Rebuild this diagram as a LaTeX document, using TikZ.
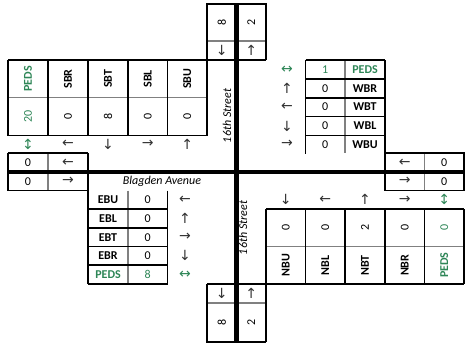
\documentclass[tikz,border=0pt]{standalone}
\usepackage{fontspec}
\setmainfont{Carlito}
\newfontfamily\arrowfont{DejaVu Sans}
\definecolor{pedsgreen}{RGB}{46,134,87}
\definecolor{gridgray}{RGB}{128,128,128}
\definecolor{arrowgray}{RGB}{50,50,50}
\begin{document}
\begin{tikzpicture}[x=1pt,y=-1pt,
  blk/.style={line width=1.6pt, black},
  gry/.style={line width=1.3pt, gridgray},
  road/.style={line width=4.6pt, black},
  lbl/.style={font=\fontsize{12}{12}\selectfont\bfseries, inner sep=0},
  val/.style={font=\fontsize{12}{12}\selectfont, inner sep=0},
  arr/.style={font=\arrowfont\fontsize{14}{14}\selectfont, text=arrowgray, inner sep=0},
  grn/.style={text=pedsgreen},
  street/.style={font=\fontsize{12}{13}\selectfont\itshape, inner sep=0},
  vert/.style={rotate=90}]
\fill[white] (0,0) rectangle (474,349);
\useasboundingbox (0,0) rectangle (474,349);
% ---------- gray internal lines
\draw[gry] (207,41)--(266,41);
\draw[gry] (8,97.7)--(207,97.7);
\draw[gry] (345,60)--(345,153);
\draw[gry] (48,153)--(48,190.5);
\draw[gry] (424.5,153)--(424.5,190.5);
\draw[gry] (128,190.5)--(128,284);
\draw[gry] (266,246.5)--(464,246.5);
\draw[gry] (207,303)--(266,303);
% ---------- black borders
% top boxes
\draw[blk] (207,60)--(207,4)--(266,4)--(266,60);
\draw[blk] (8,60)--(266,60);
% SB table
\draw[blk] (8,60)--(8,135.5)--(207,135.5)--(207,60);
\foreach \x in {48,88,128,167.5} \draw[blk] (\x,60)--(\x,135.5);
% WB table
\draw[blk] (305.5,60)--(385,60);
\draw[blk] (305.5,60)--(305.5,154);
\draw[blk] (385,60)--(385,190.5);
\foreach \y in {79,97.7,116.5,135.5} \draw[blk] (305.5,\y)--(385,\y);
% left boxes
\draw[blk] (8,153)--(88,153);
\draw[blk] (8,153)--(8,190.5)--(88,190.5);
\draw[blk] (88,153)--(88,284);
% right boxes
\draw[blk] (385,153)--(464,153)--(464,190.5)--(385,190.5);
% EB table
\draw[blk] (167.5,190.5)--(167.5,284);
\foreach \y in {209,228,246.5,265,284} \draw[blk] (88,\y)--(167.5,\y);
% NB table
\draw[blk] (266,209)--(464,209);
\draw[blk] (266,209)--(266,342);
\foreach \x in {305.5,345,385,424.5,464} \draw[blk] (\x,209)--(\x,284);
\draw[blk] (207,284)--(464,284);
% bottom boxes
\draw[blk] (207,284)--(207,342)--(266,342);
% roads
\draw[road] (7,172)--(465,172);
\draw[road] (236.5,4)--(236.5,342);
% ---------- top boxes text
\node[val,vert] (sbin) at (221.75,22.5) {8};
\node[arr] (sbinarr) at (221.75,50.5) {↓};
\node[val,vert] (nbout) at (251.25,22.5) {2};
\node[arr] (nboutarr) at (251.25,50.5) {↑};
% SB table
\node[lbl,vert,grn] (sbpedsh) at (28,78.85) {PEDS};
\node[lbl,vert] (sbrh) at (68,78.85) {SBR};
\node[lbl,vert] (sbth) at (108,78.85) {SBT};
\node[lbl,vert] (sblh) at (147.75,78.85) {SBL};
\node[lbl,vert] (sbuh) at (187.25,78.85) {SBU};
\node[val,vert,grn] (sbpedsv) at (28,116.6) {20};
\node[val,vert] (sbrv) at (68,116.6) {0};
\node[val,vert] (sbtv) at (108,116.6) {8};
\node[val,vert] (sblv) at (147.75,116.6) {0};
\node[val,vert] (sbuv) at (187.25,116.6) {0};
\node[arr,grn] (sbpedsa) at (28,144.25) {↕};
\node[arr] (sbra) at (68,144.25) {←};
\node[arr] (sbta) at (108,144.25) {↓};
\node[arr] (sbla) at (147.75,144.25) {→};
\node[arr] (sbua) at (187.25,144.25) {↑};
% left boxes
\node[val] (wboutv) at (28,162.5) {0};
\node[arr] (wbouta) at (68,162.5) {←};
\node[val] (ebinv) at (28,181.25) {0};
\node[arr] (ebina) at (68,181.25) {→};
\node[street] (blagden) at (162,181.25) {Blagden Avenue};
% streets
\node[street,vert] (st16n) at (227,116) {16th Street};
\node[street,vert] (st16s) at (243,228) {16th Street};
% WB table
\node[arr,grn] (wbpedsa) at (287,69.5) {↔};
\node[val,grn] (wbpedsv) at (325.25,69.5) {1};
\node[lbl,grn] (wbpedsh) at (365,69.5) {PEDS};
\node[arr] (wbra) at (287,88.35) {↑};
\node[val] (wbrv) at (325.25,88.35) {0};
\node[lbl] (wbrh) at (365,88.35) {WBR};
\node[arr] (wbta) at (287,107.1) {←};
\node[val] (wbtv) at (325.25,107.1) {0};
\node[lbl] (wbth) at (365,107.1) {WBT};
\node[arr] (wbla) at (287,126) {↓};
\node[val] (wblv) at (325.25,126) {0};
\node[lbl] (wblh) at (365,126) {WBL};
\node[arr] (wbua) at (287,144.25) {→};
\node[val] (wbuv) at (325.25,144.25) {0};
\node[lbl] (wbuh) at (365,144.25) {WBU};
% right boxes
\node[arr] (wbina) at (404.75,162.5) {←};
\node[val] (wbinv) at (444.25,162.5) {0};
\node[arr] (ebouta) at (404.75,181.25) {→};
\node[val] (eboutv) at (444.25,181.25) {0};
% NB arrows
\node[arr] (nbua) at (285.75,199.75) {↓};
\node[arr] (nbla) at (325.25,199.75) {←};
\node[arr] (nbta) at (365,199.75) {↑};
\node[arr] (nbra) at (404.75,199.75) {→};
\node[arr,grn] (nbpedsa) at (444.25,199.75) {↕};
% NB table
\node[val,vert] (nbuv) at (285.75,227.75) {0};
\node[val,vert] (nblv) at (325.25,227.75) {0};
\node[val,vert] (nbtv) at (365,227.75) {2};
\node[val,vert] (nbrv) at (404.75,227.75) {0};
\node[val,vert,grn] (nbpedsv) at (444.25,227.75) {0};
\node[lbl,vert] (nbuh) at (285.75,265.25) {NBU};
\node[lbl,vert] (nblh) at (325.25,265.25) {NBL};
\node[lbl,vert] (nbth) at (365,265.25) {NBT};
\node[lbl,vert] (nbrh) at (404.75,265.25) {NBR};
\node[lbl,vert,grn] (nbpedsh) at (444.25,265.25) {PEDS};
% EB table
\node[lbl] (ebuh) at (108,199.75) {EBU};
\node[val] (ebuv) at (147.75,199.75) {0};
\node[arr] (ebua) at (185,199.75) {←};
\node[lbl] (eblh) at (108,218.5) {EBL};
\node[val] (eblv) at (147.75,218.5) {0};
\node[arr] (ebla) at (185,218.5) {↑};
\node[lbl] (ebth) at (108,237.25) {EBT};
\node[val] (ebtv) at (147.75,237.25) {0};
\node[arr] (ebta) at (185,237.25) {→};
\node[lbl] (ebrh) at (108,255.75) {EBR};
\node[val] (ebrv) at (147.75,255.75) {0};
\node[arr] (ebra) at (185,255.75) {↓};
\node[lbl,grn] (ebpedsh) at (108,274.5) {PEDS};
\node[val,grn] (ebpedsv) at (147.75,274.5) {8};
\node[arr,grn] (ebpedsa) at (185,274.5) {↔};
% bottom boxes
\node[arr] (sbouta) at (221.75,293.5) {↓};
\node[val,vert] (sboutv) at (221.75,322.5) {8};
\node[arr] (nbina) at (251.25,293.5) {↑};
\node[val,vert] (nbinv) at (251.25,322.5) {2};
\end{tikzpicture}
\end{document}
